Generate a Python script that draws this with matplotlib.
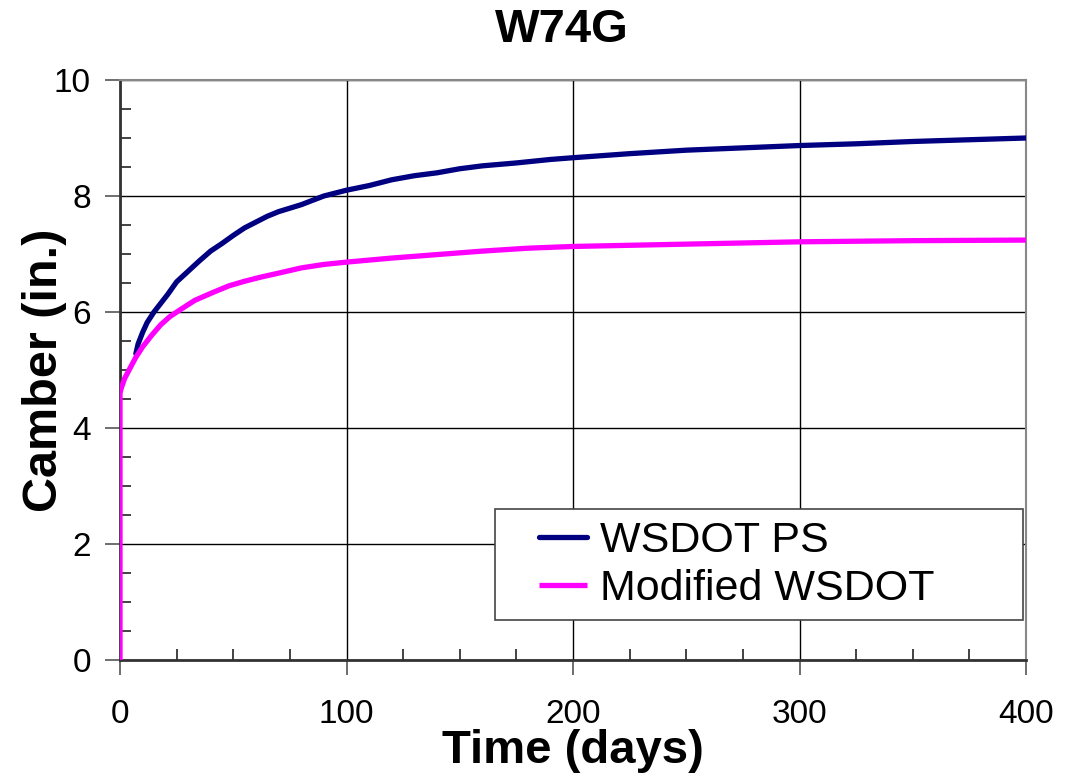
import matplotlib
matplotlib.use("Agg")
import matplotlib.pyplot as plt
from matplotlib.ticker import MultipleLocator
from matplotlib.patches import Rectangle

plt.rcParams['font.family'] = ['Liberation Sans', 'DejaVu Sans']

title = "W74G"
xlabel = "Time (days)"
ylabel = "Camber (in.)"
series_names = ["WSDOT PS", "Modified WSDOT"]

days_ps = [7, 8, 10, 12, 15, 18, 21, 25, 30, 35, 40, 45, 50, 55, 60, 65, 70, 80, 90,
           100, 110, 120, 130, 140, 150, 160, 175, 190, 200, 225, 250, 275, 300, 325,
           350, 375, 400]
camber_ps = [5.28, 5.45, 5.65, 5.82, 6.0, 6.15, 6.3, 6.52, 6.7, 6.88, 7.05, 7.18, 7.32,
             7.45, 7.55, 7.65, 7.73, 7.85, 8.0, 8.1, 8.18, 8.28, 8.35, 8.4, 8.47, 8.52,
             8.57, 8.63, 8.66, 8.73, 8.79, 8.83, 8.87, 8.9, 8.94, 8.97, 9.0]

days_mod = [0, 0, 0.5, 2, 4, 7, 10, 14, 18, 22, 27, 33, 40, 48, 55, 62, 70, 80, 90, 100,
            120, 140, 160, 180, 200, 250, 300, 350, 400]
camber_mod = [0, 4.6, 4.68, 4.85, 5.0, 5.22, 5.4, 5.6, 5.78, 5.92, 6.05, 6.2, 6.32, 6.45,
              6.53, 6.6, 6.67, 6.76, 6.82, 6.86, 6.93, 6.99, 7.05, 7.1, 7.13, 7.17, 7.21,
              7.23, 7.24]

fig = plt.figure(figsize=(10.74, 7.76), dpi=100)
ax = fig.add_axes([120/1074, 116/776, 906/1074, 580/776])

ax.plot(days_ps, camber_ps, color='#000080', lw=3.8, solid_capstyle='round', label=series_names[0], zorder=3)
ax.plot(days_mod, camber_mod, color='#FF00FF', lw=3.8, solid_capstyle='butt', label=series_names[1], zorder=3)

ax.set_xlim(0, 400)
ax.set_ylim(0, 10)
ax.xaxis.set_major_locator(MultipleLocator(100))
ax.xaxis.set_minor_locator(MultipleLocator(25))
ax.yaxis.set_major_locator(MultipleLocator(2))
ax.yaxis.set_minor_locator(MultipleLocator(0.5))
ax.grid(True, which='major', color='black', lw=1.0)
ax.set_axisbelow(True)

ax.tick_params(axis='both', which='major', direction='out', length=11, width=1.2,
               labelsize=24, color='#555555')
ax.tick_params(axis='x', which='major', pad=17)
ax.tick_params(axis='y', which='major', pad=10)
ax.tick_params(axis='both', which='minor', direction='in', length=8, width=1.2, color='#222222')

for s in ['left', 'bottom']:
    ax.spines[s].set_color('#333333')
    ax.spines[s].set_linewidth(2)
for s in ['top', 'right']:
    ax.spines[s].set_color('#888888')
    ax.spines[s].set_linewidth(1.5)

ax.set_xlabel(xlabel, fontsize=34, fontweight='bold', va='center')
ax.xaxis.set_label_coords(0.5, -0.157)
ax.set_ylabel(ylabel, fontsize=35, fontweight='bold', va='center')
ax.yaxis.set_label_coords(-0.083, 0.5)

fig.text(562/1074, 1 - 30/776, title, fontsize=34, fontweight='bold', ha='center', va='center')

# legend frame
ax.add_patch(Rectangle((0.414, 0.069), 0.583, 0.191, transform=ax.transAxes,
                       facecolor='white', edgecolor='#444444', lw=1.2, zorder=4))
leg = ax.legend(loc='center left', bbox_to_anchor=(0.463, 0.164),
                fontsize=31, frameon=False, handlelength=1.1, handletextpad=0.3,
                borderpad=0, labelspacing=0.2, borderaxespad=0)
leg.set_zorder(5)

fig.savefig('out.png', dpi=100)
